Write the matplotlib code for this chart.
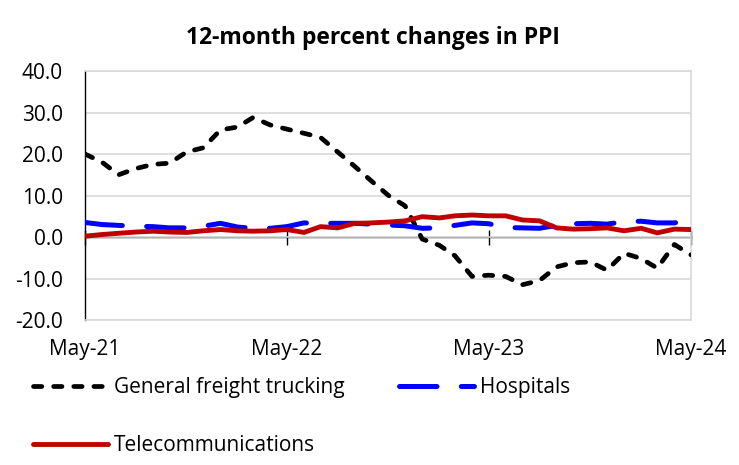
import matplotlib
matplotlib.use("Agg")
import matplotlib.pyplot as plt
import matplotlib.dates as mdates
import pandas as pd

plt.rcParams['font.family'] = ['Open Sans', 'DejaVu Sans']
plt.rcParams['lines.scale_dashes'] = False

months = pd.date_range("2021-05-01", "2024-05-01", freq="MS")

trucking = [20.0, 18.0, 15.0, 16.5, 17.5, 17.8, 20.5, 21.5, 25.8, 26.5, 28.8, 27.0,
            26.0, 25.0, 24.0, 20.5, 17.0, 13.5, 10.0, 7.5, -0.5, -2.0, -4.5, -9.5,
            -9.2, -9.5, -11.5, -10.5, -7.2, -6.2, -6.0, -8.0, -3.9, -5.2, -7.5, -1.8,
            -4.3]
hospitals = [3.5, 3.0, 2.8, 2.6, 2.5, 2.2, 2.2, 2.6, 3.3, 2.4, 2.1, 2.1,
             2.5, 3.4, 3.3, 3.3, 3.3, 3.1, 2.9, 2.7, 2.1, 2.2, 2.8, 3.4,
             3.2, 2.3, 2.2, 2.1, 2.8, 3.2, 3.3, 3.1, 3.7, 3.8, 3.4, 3.4,
             4.2]
telecom = [0.2, 0.6, 0.9, 1.2, 1.4, 1.2, 1.1, 1.5, 1.8, 1.5, 1.4, 1.5,
           1.8, 1.1, 2.5, 2.2, 3.3, 3.4, 3.6, 3.9, 4.9, 4.6, 5.1, 5.3,
           5.1, 5.1, 4.1, 3.9, 2.2, 1.9, 2.0, 2.2, 1.5, 2.1, 1.0, 1.9,
           1.8]

series_names = ["General freight trucking", "Hospitals", "Telecommunications"]
title = "12-month percent changes in PPI"
yticks = [-20, -10, 0, 10, 20, 30, 40]
xtick_dates = pd.to_datetime(["2021-05-01", "2022-05-01", "2023-05-01", "2024-05-01"])

fig = plt.figure(figsize=(7.39, 4.65), dpi=100)
ax = fig.add_axes([0.1150, 0.3118, 0.8200, 0.5355])

grid_c = "#d9d9d9"
fs = 15
ax.set_ylim(-20, 40)
ax.set_xlim(months[0], months[-1])
ax.set_yticks(yticks)
ax.yaxis.set_major_formatter(matplotlib.ticker.FormatStrFormatter('%.1f'))
ax.grid(axis='y', color=grid_c, lw=1.2)
ax.set_axisbelow(True)

ax.set_xticks(xtick_dates)
ax.xaxis.set_major_formatter(mdates.DateFormatter('%b-%y'))
ax.tick_params(axis='x', length=0, pad=14, labelsize=fs)
ax.tick_params(axis='y', length=0, pad=16, labelsize=fs)

for s in ['top', 'right', 'bottom']:
    ax.spines[s].set_color(grid_c)
    ax.spines[s].set_linewidth(1.2)
ax.spines['left'].set_color('black')
ax.spines['left'].set_linewidth(1.0)

# zero axis line with crossing ticks
sec = ax.secondary_xaxis(1/3)
sec.set_xticks(xtick_dates)
sec.tick_params(axis='x', direction='inout', length=10.8, width=1.0, labelbottom=False, labeltop=False, color='black')
sec.spines['bottom'].set_color('black')
sec.spines['top'].set_color('black')
sec.spines['bottom'].set_linewidth(1.0)
sec.spines['top'].set_linewidth(1.0)

l1, = ax.plot(months, trucking, color='black', lw=3.4, dashes=(6.0, 8.5),
              dash_capstyle='round', solid_capstyle='round', label=series_names[0], zorder=3)
l2, = ax.plot(months, hospitals, color='#0000FF', lw=3.6, dashes=(27.0, 17.5),
              dash_capstyle='round', solid_capstyle='round', label=series_names[1], zorder=3)
l3, = ax.plot(months, telecom, color='#C00000', lw=3.5,
              solid_capstyle='round', label=series_names[2], zorder=4)

fig.text(0.505, 1 - 38 / 465, title, ha='center', va='center', fontsize=16.5, fontweight='bold')

fig.legend([l1, l3, l2], [series_names[0], series_names[2], series_names[1]],
           ncol=2, loc='upper left', bbox_to_anchor=(33 / 739, 1 - 377 / 465),
           frameon=False, fontsize=fs, handlelength=3.6, handletextpad=0.3,
           columnspacing=2.6, labelspacing=1.78, borderpad=0, borderaxespad=0)

fig.savefig("out.png", dpi=100)
